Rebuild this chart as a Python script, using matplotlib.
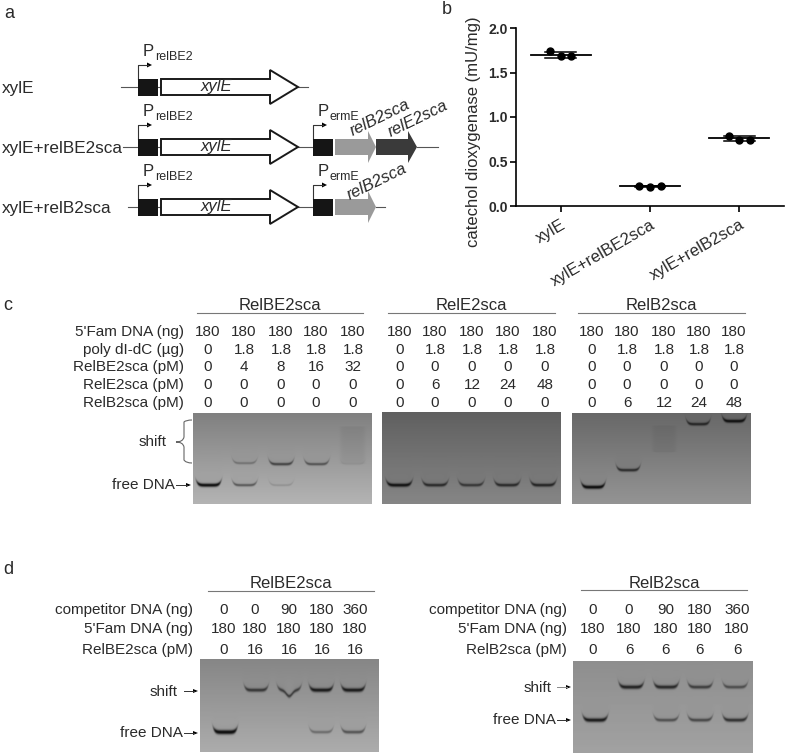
#!/bin/python3
# -*- coding: utf-8 -*-

# file name: plot.py

import numpy as np
import matplotlib as mplt
mplt.use("Agg")
import matplotlib.pyplot as plt
from matplotlib.patches import Polygon, Rectangle, PathPatch
from matplotlib.path import Path
from matplotlib.transforms import ScaledTranslation

plt.rcParams["font.family"] = ["Liberation Sans", "DejaVu Sans"]

TXT = "#2a2a2a"

# panel b
strains = ["xylE", "xylE+relBE2sca", "xylE+relB2sca"]
points = [[1.74, 1.68, 1.68], [0.22, 0.21, 0.22], [0.79, 0.74, 0.74]]
means = [1.70, 0.22, 0.76]
sems = [0.035, 0.005, 0.025]

# panel c
c_row_labels = ["5'Fam DNA (ng)", "poly dI-dC (µg)", "RelBE2sca (pM)", "RelE2sca (pM)", "RelB2sca (pM)"]
c_fam = ["180", "180", "180", "180", "180"]
c_poly = ["0", "1.8", "1.8", "1.8", "1.8"]
c_zero = ["0", "0", "0", "0", "0"]
c_relbe = ["0", "4", "8", "16", "32"]
c_rele = ["0", "6", "12", "24", "48"]
c_relb = ["0", "6", "12", "24", "48"]

# band darkness per lane
c1_free = [1.0, 0.5, 0.15, 0, 0]
c1_shift = [0, 0.3, 0.6, 0.5, 0.06]
c1_shift_y = [464, 463, 464, 464, 464]
c1_smear = [0, 0, 0, 0, 38]
c2_free = [0.9, 0.7, 0.6, 0.7, 0.75]
c3_free = [1.0, 0, 0, 0, 0]
c3_shift = [0, 0.7, 0.02, 0.7, 0.9]
c3_shift_y = [470, 470, 452, 424, 421]
c3_smear = [0, 0, 27, 0, 0]

# panel d
d1_row_labels = ["competitor DNA (ng)", "5'Fam DNA (ng)", "RelBE2sca (pM)"]
d2_row_labels = ["competitor DNA (ng)", "5'Fam DNA (ng)", "RelB2sca (pM)"]
d_comp = ["0", "0", "90", "180", "360"]
d1_prot = ["0", "16", "16", "16", "16"]
d2_prot = ["0", "6", "6", "6", "6"]
d1_free = [1.0, 0, 0, 0.35, 0.5]
d1_shift = [0, 0.65, 0.6, 0.85, 0.85]
d1_dip = [0, 0, 6, 0, 0]
d2_free = [0.85, 0, 0.5, 0.55, 0.7]
d2_shift = [0, 0.8, 0.75, 0.6, 0.5]


def put(ax, x, y, s, size=11, ha="center", **kw):
    ax.text(x, y, s, fontsize=size, ha=ha, va="center", color=TXT, **kw)


def small_arrow(ax, x0, x1, y, color="#333333"):
    ax.plot([x0, x1 - 4], [y, y], color=color, lw=0.7)
    ax.add_patch(Polygon([[x1 - 5, y - 2], [x1, y], [x1 - 5, y + 2]], fc="black", ec="none"))


def gene(ax, x0, x1, head_x, y, body, head, fc, ec="none", lw=0):
    pts = [[x0, y - body], [head_x, y - body], [head_x, y - head], [x1, y],
           [head_x, y + head], [head_x, y + body], [x0, y + body]]
    ax.add_patch(Polygon(pts, closed=True, fc=fc, ec=ec, lw=lw, joinstyle="miter", zorder=3))


def promoter(ax, x, y_top, y_bend, name, label_y):
    ax.plot([x, x, x + 10], [y_top, y_bend, y_bend], color="#333333", lw=0.8)
    ax.add_patch(Polygon([[x + 9, y_bend - 2.5], [x + 14, y_bend], [x + 9, y_bend + 2.5]],
                         fc="black", ec="none"))
    put(ax, x + 5, label_y, "P", size=12, ha="left")
    put(ax, x + 17, label_y + 5, name, size=9, ha="left")


def draw_gel(ax, box, top, bottom, lanes, half_w, free, free_y, shift=None, shift_y=None,
             smear=None, thick=1.0, dips=None):
    x0, x1, y0, y1 = box
    xs = np.arange(x0, x1, 0.5)
    ys = np.arange(y0, y1, 0.5)
    X, Y = np.meshgrid(xs, ys)
    img = top + (bottom - top) * (Y - y0) / (y1 - y0)

    def band(cx, yc, dark, haze, dip=0):
        t = (X - cx) / half_w
        win = np.exp(-t ** 10)
        curve = yc - 4.5 * t ** 6 + dip * np.exp(-(t / 0.35) ** 2)
        core = np.exp(-((Y - curve) / (thick * (1.0 + 1.1 * dark))) ** 2) * win
        above = np.where(Y < curve, np.exp(-(curve - Y) / 5.0), 0) * win * 0.09
        out = 1 - np.clip(dark * 0.95 * core + min(dark * 1.5, 1) * above, 0, 0.9)
        if haze:
            hz = ((Y < yc) & (Y > yc - haze)) * np.exp(-t ** 8) * 0.05
            out = out * (1 - hz)
        return out

    for i, cx in enumerate(lanes):
        if free[i] > 0:
            img = img * band(cx, free_y, free[i], 0)
        if shift is not None and shift[i] > 0:
            yc = shift_y[i] if isinstance(shift_y, list) else shift_y
            img = img * band(cx, yc, shift[i], smear[i] if smear else 0, dips[i] if dips else 0)

    ax.imshow(img, extent=[x0, x1, y1, y0], cmap="gray", vmin=0, vmax=255,
              aspect="auto", zorder=1, interpolation="bilinear")


def value_rows(ax, lanes, rows, ys):
    for vals, y in zip(rows, ys):
        for x, v in zip(lanes, vals):
            put(ax, x, y, v)


def header(ax, x0, x1, y_text, y_line, name):
    put(ax, (x0 + x1) / 2, y_text, name, size=12)
    ax.plot([x0, x1], [y_line, y_line], color="#777777", lw=0.8)


def plot_figure():
    fig = plt.figure(figsize=(7.87, 7.55), dpi=100)
    ax = fig.add_axes([0, 0, 1, 1])
    ax.axis("off")

    # panel letters
    put(ax, 9, 14, "a", size=13)
    put(ax, 447, 9, "b", size=13)
    put(ax, 8, 305, "c", size=13)
    put(ax, 8, 570, "d", size=13)

    # a: gene maps
    for y, name, x_start in zip([87, 147, 207], strains, [121, 123, 128]):
        ax.plot([x_start, 138], [y, y], color="#555555", lw=0.8)
        ax.add_patch(Rectangle((138, y - 8.5), 20, 17, fc="#151515", ec="none", zorder=3))
        ax.plot([158, 162], [y, y], color="#555555", lw=0.8)
        gene(ax, 161, 298, 270, y, 8, 17, "white", "#1a1a1a", 1.4)
        put(ax, 216, y, "xylE", size=12, style="italic", zorder=5)
        put(ax, 2, y + 1, name, size=12.3, ha="left")
        promoter(ax, 138, y - 8, y - 22, "relBE2", y - 35)
    ax.plot([298, 308], [87, 87], color="#555555", lw=0.8)

    for y in [147, 207]:
        ax.plot([298, 313], [y, y], color="#555555", lw=0.8)
        ax.add_patch(Rectangle((313, y - 8.5), 20, 17, fc="#151515", ec="none", zorder=3))
        gene(ax, 335, 376, 368, y, 8, 16, "#9a9a9a")
        promoter(ax, 313, y - 8, y - 22, "ermE", y - 35)
    gene(ax, 376, 417, 408, 147, 8, 16, "#3a3a3a")
    ax.plot([417, 438], [147, 147], color="#555555", lw=0.8)
    ax.plot([376, 385], [207, 207], color="#555555", lw=0.8)
    put(ax, 380, 118, "relB2sca", size=12, style="italic", rotation=26, zorder=6)
    put(ax, 418, 119, "relE2sca", size=12, style="italic", rotation=26, zorder=6)
    put(ax, 377, 182, "relB2sca", size=12, style="italic", rotation=26, zorder=6)

    # c: tables
    c_ys = [332, 350, 367, 385, 403]
    for label, y in zip(c_row_labels, c_ys):
        put(ax, 184, y, label, ha="right")
    c1_lanes = [208, 244, 281, 316, 353]
    c2_lanes = [400, 435, 472, 508, 545]
    c3_lanes = [592, 627, 664, 699, 734]
    value_rows(ax, c1_lanes, [c_fam, c_poly, c_relbe, c_zero, c_zero], c_ys)
    value_rows(ax, c2_lanes, [c_fam, c_poly, c_zero, c_rele, c_zero], c_ys)
    value_rows(ax, c3_lanes, [c_fam, c_poly, c_zero, c_zero, c_relb], c_ys)
    header(ax, 197, 363, 305, 313, "RelBE2sca")
    header(ax, 388, 555, 305, 313, "RelE2sca")
    header(ax, 578, 745, 305, 313, "RelB2sca")

    # c: gels
    draw_gel(ax, (193, 372, 413, 504), 128, 180, [208.5, 244.5, 281, 316.5, 352.5], 12.5,
             c1_free, 485, c1_shift, c1_shift_y, c1_smear, thick=0.8)
    draw_gel(ax, (382, 561, 412, 504), 96, 134, [399, 435, 471, 507, 543], 13, c2_free, 485, thick=0.85)
    draw_gel(ax, (572, 751, 413, 504), 104, 148, [593, 628, 664, 698, 734], 12,
             c3_free, 487, c3_shift, c3_shift_y, c3_smear, thick=0.8)

    # c: annotations
    brace = Path([(192, 420), (186, 420), (184, 422), (184, 430), (184, 437), (183, 442), (176, 442),
                  (183, 442), (184, 447), (184, 454), (184, 460), (186, 463), (192, 463)],
                 [Path.MOVETO] + [Path.CURVE3] * 12)
    ax.add_patch(PathPatch(brace, fc="none", ec="#666666", lw=0.8))
    put(ax, 167, 442, "shift", ha="right")
    put(ax, 175, 485, "free DNA", ha="right")
    small_arrow(ax, 176, 191, 485)

    # d: tables
    d_ys = [610, 629, 650]
    d1_lanes = [224, 255, 289, 322, 355]
    d2_lanes = [593, 629, 666, 700, 737]
    for label, y in zip(d1_row_labels, d_ys):
        put(ax, 193, y, label, ha="right")
    for label, y in zip(d2_row_labels, d_ys):
        put(ax, 567, y, label, ha="right")
    value_rows(ax, d1_lanes, [d_comp, c_fam, d1_prot], d_ys)
    value_rows(ax, d2_lanes, [d_comp, c_fam, d2_prot], d_ys)
    header(ax, 208, 374, 583, 591, "RelBE2sca")
    header(ax, 581, 747, 583, 590, "RelB2sca")

    # d: gels
    draw_gel(ax, (200, 379, 659, 752), 134, 172, [225, 256, 289, 321, 353], 12,
             d1_free, 732, d1_shift, [690, 690, 690, 690, 690], dips=d1_dip)
    draw_gel(ax, (573, 753, 661, 753), 142, 162, [595, 631, 666, 700, 735], 12.5,
             d2_free, 720, d2_shift, 687)

    put(ax, 178, 692, "shift", ha="right")
    small_arrow(ax, 184, 198, 691)
    put(ax, 183, 733, "free DNA", ha="right")
    small_arrow(ax, 184, 198, 733)
    put(ax, 552, 688, "shift", ha="right")
    small_arrow(ax, 557, 571, 687, color="#888888")
    put(ax, 556, 720, "free DNA", ha="right")
    small_arrow(ax, 557, 571, 720)

    ax.set_xlim(0, 787)
    ax.set_ylim(755, 0)

    # b: scatter
    left, right, top, bottom = 516, 784, 28, 206
    bx = fig.add_axes([left / 787, 1 - bottom / 755, (right - left) / 787, (bottom - top) / 755])
    bx.patch.set_alpha(0)
    for i, (vals, m, s) in enumerate(zip(points, means, sems)):
        bx.plot([i - 0.12, i, i + 0.12], vals, "o", color="black", ms=5, zorder=3)
        bx.plot([i - 0.335, i + 0.335], [m, m], color="black", lw=1.3)
        bx.plot([i - 0.17, i + 0.17], [m + s, m + s], color="black", lw=1.1)
        bx.plot([i - 0.17, i + 0.17], [m - s, m - s], color="black", lw=1.1)
    bx.set_xlim(-0.5, 2.5)
    bx.set_ylim(0, 2.0)
    bx.set_yticks([0, 0.5, 1.0, 1.5, 2.0])
    bx.set_yticklabels(["0.0", "0.5", "1.0", "1.5", "2.0"], fontsize=10, fontweight="bold", color=TXT)
    bx.set_xticks([0, 1, 2])
    bx.set_xticklabels(strains, fontsize=12, rotation=30, ha="right", rotation_mode="anchor", color=TXT)
    shift_left = ScaledTranslation(-6 / 100, 0, fig.dpi_scale_trans)
    for lab in bx.get_xticklabels():
        lab.set_transform(lab.get_transform() + shift_left)
    bx.tick_params(axis="both", width=1.2, length=4)
    bx.tick_params(axis="y", pad=2)
    bx.tick_params(axis="x", pad=4)
    bx.set_ylabel("catechol dioxygenase (mU/mg)", fontsize=12, color=TXT)
    bx.yaxis.set_label_coords(-0.13, 0.42)
    bx.spines["top"].set_visible(False)
    bx.spines["right"].set_visible(False)
    bx.spines["left"].set_linewidth(1.2)
    bx.spines["bottom"].set_linewidth(1.2)

    fig.savefig("out.png", dpi=100)


if __name__ == "__main__":
    plot_figure()
